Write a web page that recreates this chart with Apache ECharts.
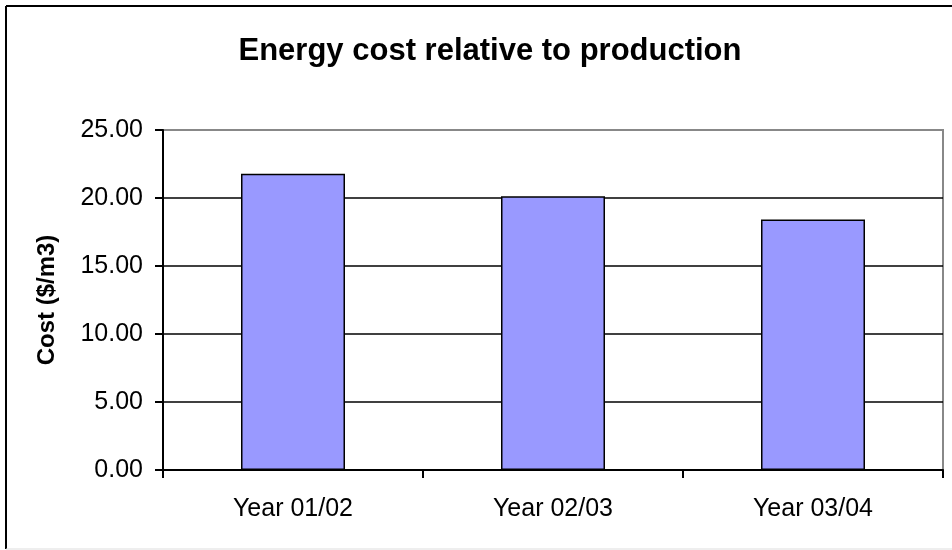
<!DOCTYPE html>
<html><head><meta charset="utf-8">
<script src="https://cdn.jsdelivr.net/npm/echarts@6/dist/echarts.min.js"></script>
<style>html,body{margin:0;padding:0;background:#fff}#c{width:952px;height:550px}</style>
</head><body><div id="c"></div>
<script>
var categories = ['Year 01/02', 'Year 02/03', 'Year 03/04'];
var costValues = [21.78, 20.12, 18.41];
var yTicks = [0, 5, 10, 15, 20, 25];

var chart = echarts.init(document.getElementById('c'));
chart.setOption({
  animation: false,
  backgroundColor: '#fff',
  title: {
    text: 'Energy cost relative to production',
    left: 485, top: 31, textAlign: 'center',
    textStyle: {fontFamily: 'Liberation Sans, Arial, sans-serif', fontWeight: 'bold', fontSize: 31, color: '#000'}
  },
  graphic: [
    {type: 'line', shape: {x1: 6, y1: 6, x2: 952, y2: 6}, style: {stroke: '#000', lineWidth: 2}},
    {type: 'line', shape: {x1: 6, y1: 6, x2: 6, y2: 549}, style: {stroke: '#000', lineWidth: 2}},
    {type: 'line', shape: {x1: 6, y1: 549, x2: 952, y2: 549}, style: {stroke: '#ddd', lineWidth: 1}}
  ],
  grid: {left: 163, right: 9, top: 130, bottom: 80, show: true, borderColor: '#888', borderWidth: 2, backgroundColor: '#fff'},
  xAxis: {
    type: 'category', data: categories,
    axisLine: {lineStyle: {color: '#000', width: 2}},
    axisTick: {show: true, length: 8, lineStyle: {color: '#000', width: 2}},
    axisLabel: {fontFamily: 'Liberation Sans, Arial, sans-serif', fontSize: 25, color: '#000', margin: 27}
  },
  yAxis: {
    type: 'value', min: yTicks[0], max: yTicks[yTicks.length - 1], interval: 5,
    name: 'Cost ($/m3)', nameLocation: 'middle', nameGap: 104, nameRotate: 90,
    nameTextStyle: {fontFamily: 'Liberation Sans, Arial, sans-serif', fontWeight: 'bold', fontSize: 24, color: '#000'},
    axisLine: {show: true, lineStyle: {color: '#000', width: 2}},
    axisTick: {show: true, length: 8, lineStyle: {color: '#000', width: 2}},
    axisLabel: {fontFamily: 'Liberation Sans, Arial, sans-serif', fontSize: 25, color: '#000', margin: 20,
      formatter: function (v) { return v.toFixed(2); }},
    splitLine: {lineStyle: {color: ['#000', '#000', '#000', '#000', '#000', '#888'], width: 1.5}}
  },
  series: [{
    type: 'bar', data: costValues, barWidth: '40%',
    itemStyle: {color: '#9999FF', borderColor: '#000', borderWidth: 1.5}
  }]
});
</script></body></html>
